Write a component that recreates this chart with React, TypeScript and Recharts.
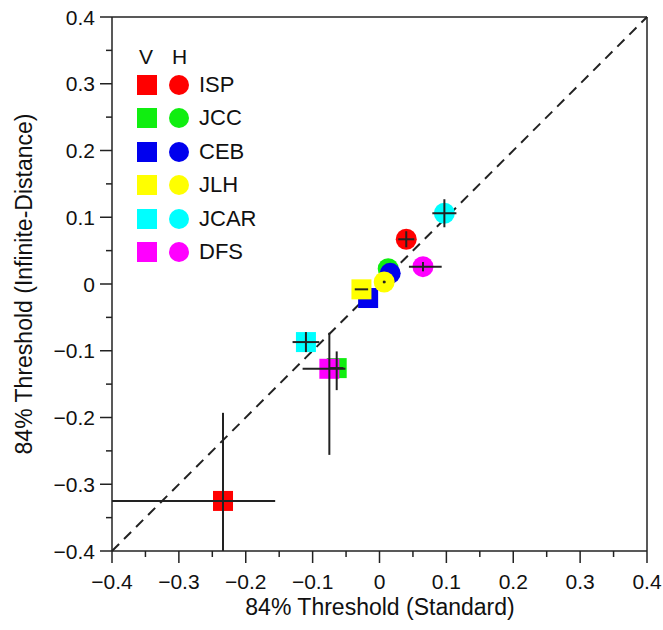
import React from "react";
import {
  ScatterChart,
  Scatter,
  XAxis,
  YAxis,
  ErrorBar,
  ReferenceLine,
} from "recharts";

const subjects = ["ISP", "JCC", "CEB", "JLH", "JCAR", "DFS"];
const colors = ["#ff0000", "#10ee10", "#0000ee", "#ffff00", "#00ffff", "#ff00ff"];

// V = squares, H = circles
const vX = [-0.234, -0.064, -0.017, -0.027, -0.11, -0.075];
const vY = [-0.325, -0.126, -0.021, -0.008, -0.087, -0.127];
const hX = [0.04, 0.013, 0.016, 0.007, 0.097, 0.065];
const hY = [0.067, 0.023, 0.016, 0.003, 0.106, 0.026];

// error bars as [minus, plus]
const vErrX = [[0.166, 0.078], [0.01, 0.01], [0, 0], [0.01, 0.01], [0.02, 0.02], [0.04, 0.024]];
const vErrY = [[0.075, 0.132], [0.033, 0.025], [0, 0], [0, 0], [0.015, 0.015], [0.129, 0.054]];
const hErrX = [[0.012, 0.012], [0, 0], [0, 0], [0.002, 0.002], [0.018, 0.018], [0.021, 0.028]];
const hErrY = [[0.012, 0.012], [0, 0], [0, 0], [0.002, 0.002], [0.021, 0.021], [0.007, 0.007]];

const axisTicks = [
  -0.4, -0.35, -0.3, -0.25, -0.2, -0.15, -0.1, -0.05, 0, 0.05, 0.1, 0.15, 0.2, 0.25, 0.3, 0.35, 0.4,
];

const FONT = "'Liberation Sans', Arial, Helvetica, sans-serif";
const INK = "#222";

const isMajor = (v: number) => Math.abs(Math.round(v * 10) - v * 10) < 1e-6;
const fmt = (v: number) => {
  if (Math.abs(v) < 1e-9) return "0";
  return (v < 0 ? "\u2212" : "") + Math.abs(v).toFixed(1);
};

const XTick = (props: any) => {
  const { x, y, payload } = props;
  const major = isMajor(payload.value);
  return (
    <g>
      <line x1={x} x2={x} y1={y} y2={y + (major ? 12 : 6)} stroke={INK} strokeWidth={1.5} />
      {major && (
        <text x={x} y={y + 38} textAnchor="middle" fontSize={21} fontFamily={FONT} fill="#111">
          {fmt(payload.value)}
        </text>
      )}
    </g>
  );
};

const YTick = (props: any) => {
  const { x, y, payload } = props;
  const major = isMajor(payload.value);
  return (
    <g>
      <line x1={x} x2={x - (major ? 12 : 6)} y1={y} y2={y} stroke={INK} strokeWidth={1.5} />
      {major && (
        <text x={x - 17} y={y + 7.5} textAnchor="end" fontSize={21} fontFamily={FONT} fill="#111">
          {fmt(payload.value)}
        </text>
      )}
    </g>
  );
};

const Marker = (props: any) => {
  const { cx, cy, payload } = props;
  if (payload.kind === "V") {
    return <rect x={cx - 10} y={cy - 10} width={20} height={20} fill={payload.color} />;
  }
  return <circle cx={cx} cy={cy} r={10.5} fill={payload.color} />;
};

const Empty = () => <g />;

export default function App() {
  const series = subjects.map((name, i) => ({
    name,
    data: [
      { x: vX[i], y: vY[i], kind: "V", color: colors[i] },
      { x: hX[i], y: hY[i], kind: "H", color: colors[i] },
    ],
  }));

  const errData = subjects.flatMap((_, i) => [
    { x: vX[i], y: vY[i], ex: vErrX[i], ey: vErrY[i] },
    { x: hX[i], y: hY[i], ex: hErrX[i], ey: hErrY[i] },
  ]);

  return (
    <div style={{ position: "absolute", left: 0, top: 0, width: 663, height: 630, background: "#fff", fontFamily: FONT }}>
      <ScatterChart width={663} height={630} margin={{ top: 17, right: 16, bottom: 0, left: 0 }}>
        <XAxis
          type="number"
          dataKey="x"
          domain={[-0.4, 0.4]}
          ticks={axisTicks}
          interval={0}
          tickSize={0}
          tickMargin={0}
          tickLine={false}
          tick={<XTick />}
          height={79}
          axisLine={{ stroke: INK, strokeWidth: 1.5 }}
          allowDataOverflow
        />
        <YAxis
          type="number"
          dataKey="y"
          domain={[-0.4, 0.4]}
          ticks={axisTicks}
          interval={0}
          tickSize={0}
          tickMargin={0}
          tickLine={false}
          tick={<YTick />}
          width={112}
          axisLine={{ stroke: INK, strokeWidth: 1.5 }}
          allowDataOverflow
        />
        <ReferenceLine y={0.4} stroke={INK} strokeWidth={1.5} />
        <ReferenceLine x={0.4} stroke={INK} strokeWidth={1.5} />
        <ReferenceLine
          segment={[
            { x: -0.4, y: -0.4 },
            { x: 0.4, y: 0.4 },
          ]}
          stroke={INK}
          strokeWidth={2}
          strokeDasharray="10 7"
        />
        {series.map((s) => (
          <Scatter
            key={s.name}
            name={s.name}
            data={s.data}
            shape={<Marker />}
            isAnimationActive={false}
            zIndex={550}
          />
        ))}
        <Scatter data={errData} shape={<Empty />} isAnimationActive={false} zIndex={700}>
          <ErrorBar dataKey="ex" direction="x" width={0} stroke={INK} strokeWidth={2} zIndex={800} />
          <ErrorBar dataKey="ey" direction="y" width={0} stroke={INK} strokeWidth={2} zIndex={800} />
        </Scatter>
      </ScatterChart>

      {/* legend */}
      <div style={{ position: "absolute", left: 0, top: 0, pointerEvents: "none" }}>
        <div style={{ position: "absolute", left: 139, top: 45, fontSize: 21, color: "#111" }}>V</div>
        <div style={{ position: "absolute", left: 172, top: 45, fontSize: 21, color: "#111" }}>H</div>
        {subjects.map((name, i) => {
          const cy = 85 + i * 33.4;
          return (
            <React.Fragment key={name}>
              <div style={{ position: "absolute", left: 137, top: cy - 10, width: 20, height: 20, background: colors[i] }} />
              <div
                style={{
                  position: "absolute",
                  left: 169,
                  top: cy - 10,
                  width: 20,
                  height: 20,
                  borderRadius: "50%",
                  background: colors[i],
                }}
              />
              <div style={{ position: "absolute", left: 199, top: cy - 13, fontSize: 22, lineHeight: "26px", color: "#111" }}>
                {name}
              </div>
            </React.Fragment>
          );
        })}
      </div>

      {/* axis titles */}
      <div
        style={{
          position: "absolute",
          left: 180,
          top: 593,
          width: 400,
          textAlign: "center",
          fontSize: 23,
          lineHeight: "28px",
          color: "#111",
        }}
      >
        84% Threshold (Standard)
      </div>
      <div
        style={{
          position: "absolute",
          left: 24 - 220,
          top: 284 - 14,
          width: 440,
          textAlign: "center",
          fontSize: 23,
          lineHeight: "28px",
          color: "#111",
          transform: "rotate(-90deg)",
        }}
      >
        84% Threshold (Infinite-Distance)
      </div>
    </div>
  );
}
